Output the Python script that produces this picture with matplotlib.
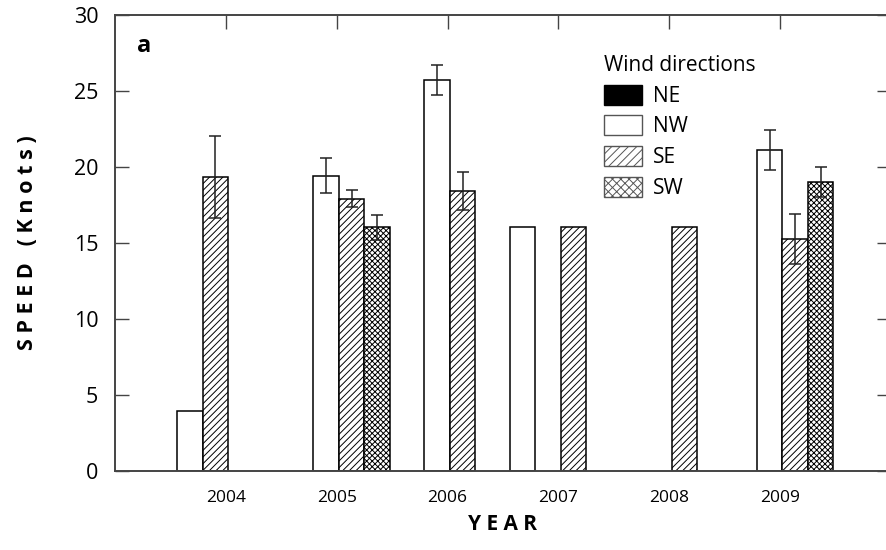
import numpy as np
import matplotlib
matplotlib.use('Agg')
import matplotlib.pyplot as plt
from matplotlib.patches import Patch

plt.rcParams['font.family'] = ['Open Sans', 'DejaVu Sans']
plt.rcParams['hatch.linewidth'] = 0.7

# Дані: середня швидкість вітру за напрямками
years = [2004, 2005, 2006, 2007, 2008, 2009]
directions = ['NE', 'NW', 'SE', 'SW']

ne_speed = [0, 0, 0, 0, 0, 0]
nw_speed = [3.95, 19.4, 25.7, 16.0, 0, 21.1]
se_speed = [19.3, 17.9, 18.4, 16.0, 16.0, 15.25]
sw_speed = [0, 16.0, 0, 0, 0, 19.0]

nw_err = [0, 1.15, 1.0, 0, 0, 1.3]
se_err = [2.7, 0.55, 1.25, 0, 0, 1.65]
sw_err = [0, 0.8, 0, 0, 0, 1.0]

# зсув окремих стовпців (у ширинах стовпця), як на оригіналі
nw_shift = [-1, 0, 0, -1, 0, 0]
se_shift = [-1, 0, 0, 0, 0, 0]

fig = plt.figure(figsize=(8.86, 5.5), dpi=100)
ax = fig.add_axes([115 / 886, 79.3 / 550, 776 / 886, 456.2 / 550])

w = 0.23
x = np.array(years, dtype=float) + 0.02

series = [
    (ne_speed, None, [0] * 6, -2, 'black', ''),
    (nw_speed, nw_err, nw_shift, -1, 'white', ''),
    (se_speed, se_err, se_shift, 0, 'white', '/////'),
    (sw_speed, sw_err, [0] * 6, 1, 'white', 'xxxxxx'),
]

for vals, errs, shift, slot, color, hatch in series:
    vals = np.array(vals)
    pos = x + (slot + np.array(shift)) * w
    mask = vals > 0
    ax.bar(pos[mask], vals[mask], width=w, align='edge', color=color,
           edgecolor='black', linewidth=1.1, hatch=hatch)
    if errs is not None:
        errs = np.array(errs)
        emask = mask & (errs > 0)
        ax.errorbar(pos[emask] + w / 2, vals[emask], yerr=errs[emask],
                    fmt='none', ecolor='#222222', elinewidth=1.1,
                    capsize=4, capthick=1.1)

ax.set_xlim(2003, 2010)
ax.set_ylim(0, 30)
ax.set_xticks(years)
ax.set_xticklabels([str(y) for y in years], fontsize=12.5)
ax.set_yticks(range(0, 31, 5))
ax.tick_params(axis='x', bottom=False, top=True, direction='in',
               length=10, width=1, color='#444444', labelbottom=True, pad=14)
ax.tick_params(axis='y', left=True, right=True, direction='in',
               length=10, width=1, color='#444444', labelsize=15.5, pad=12)
for s in ax.spines.values():
    s.set_color('#444444')
    s.set_linewidth(1.4)

ax.set_xlabel('Y E A R', fontsize=15, fontweight='bold', labelpad=6)
ax.set_ylabel('S P E E D   ( K n o t s )', fontsize=15.5, fontweight='bold',
              labelpad=26)

ax.text(0.028, 0.93, 'a', transform=ax.transAxes, fontsize=17,
        fontweight='bold', va='center', ha='left')

# Легенда
handles = [
    Patch(facecolor='black', edgecolor='black', label='NE'),
    Patch(facecolor='white', edgecolor='#555555', label='NW'),
    Patch(facecolor='white', edgecolor='#555555', hatch='////', label='SE'),
    Patch(facecolor='white', edgecolor='#555555', hatch='xxxx', label='SW'),
]
ax.legend(handles=handles, title='Wind directions', loc='upper left',
          bbox_to_anchor=(0.62, 0.93), frameon=False, fontsize=15,
          title_fontsize=15, handlelength=1.8, handleheight=1.1,
          labelspacing=0.42, handletextpad=0.55, alignment='left',
          borderaxespad=0)

fig.savefig('out.png', dpi=100)
